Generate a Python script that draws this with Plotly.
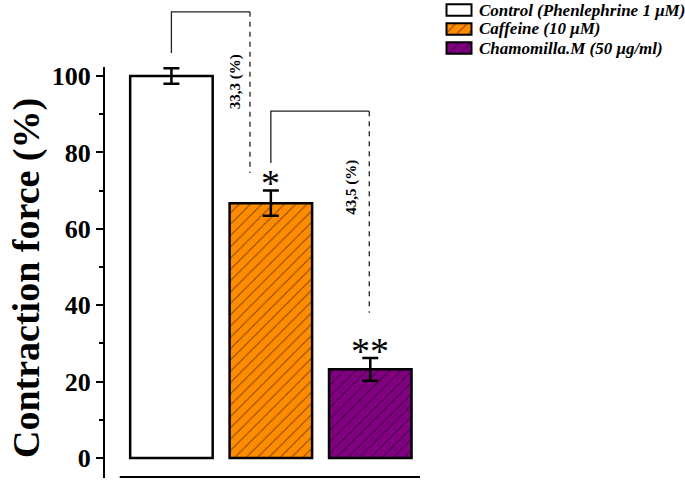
import plotly.graph_objects as go

# ---- data ----
categories = ["Control", "Caffeine", "Chamomilla"]
legend_names = ["Control (Phenlephrine 1 \u03bcM)", "Caffeine (10 \u03bcM)", "Chamomilla.M (50 \u03bcg/ml)"]
values = [100.0, 66.7, 23.2]
errors = [2.0, 3.3, 3.0]
colors = ["#FFFFFF", "#FF8C00", "#800080"]
patterns = ["", "/", "/"]
stars = ["", "*", "**"]
y_tickvals = [0, 20, 40, 60, 80, 100]
y_minor = [10, 30, 50, 70, 90]

FONT = "Times New Roman, Liberation Serif, serif"
W, H = 685, 481
# main axes: y axis stops just above the top error bar; everything above is drawn in a pixel overlay
XR = [-0.668, 2.5]
YR = [-5.3, 102.4]
PX_LEFT, PX_RIGHT = 105.0, 420.0
PX_Y0 = 458.0          # pixel of value 0
PX_PER_UNIT = 3.82


def px_x(p):
    return p / W


def px_y(p):
    return (H - p) / H


def y_to_px(v):
    return PX_Y0 - v * PX_PER_UNIT


def x_to_px(v):
    return PX_LEFT + (v - XR[0]) / (XR[1] - XR[0]) * (PX_RIGHT - PX_LEFT)


XDOM = [px_x(PX_LEFT), px_x(PX_RIGHT)]
YDOM = [px_y(y_to_px(YR[0])), px_y(y_to_px(YR[1]))]

fig = go.Figure()
xs = list(range(len(categories)))
for i in xs:
    fig.add_trace(go.Bar(
        x=[i], y=[values[i]], name=legend_names[i], width=0.83, showlegend=False,
        marker=dict(color=colors[i], line=dict(color="black", width=2.5),
                    pattern=dict(shape=patterns[i], fgcolor="black", size=8, solidity=0.12)),
        error_y=dict(type="data", array=[errors[i]], color="black", thickness=2.5, width=8),
        xaxis="x", yaxis="y",
    ))

# legend swatches drawn as small horizontal bars in a helper subplot
for i in xs:
    fig.add_trace(go.Bar(
        x=[1], y=[i], orientation="h", width=0.6, showlegend=False, hoverinfo="skip",
        marker=dict(color=colors[i], line=dict(color="black", width=2),
                    pattern=dict(shape=patterns[i], fgcolor="black", size=8, solidity=0.12)),
        xaxis="x2", yaxis="y2",
    ))
    fig.add_annotation(xref="paper", yref="paper", x=px_x(477), y=px_y(10 + 19 * i),
                       text=legend_names[i], showarrow=False, xanchor="left", yanchor="middle",
                       font=dict(family=FONT, size=17, color="black", style="italic", weight="bold"))

# significance stars (pixel overlay)
for i in xs:
    if stars[i]:
        fig.add_annotation(xref="x3", yref="y3", x=x_to_px(i), y=y_to_px(values[i] + errors[i] + 1.9),
                           text=stars[i], showarrow=False, yanchor="middle",
                           font=dict(family=FONT, size=38, color="black"))

# comparison brackets (pixel overlay)
brackets = [  # (from idx, to-x offset, start y, top y, dashed end y, label x, label y)
    (0, 0.79, 106.0, 116.8, 74.6, 0.64, 98.4),
    (1, 0.99, 77.2, 90.8, 38.0, 1.815, 71.0),
]
for i, dx, y0, ytop, yend, lx, ly in brackets:
    x0 = xs[i]
    x1 = xs[i] + dx
    fig.add_trace(go.Scatter(
        x=[x_to_px(x0), x_to_px(x0), x_to_px(x1)], y=[y_to_px(y0), y_to_px(ytop), y_to_px(ytop)],
        mode="lines", line=dict(color="#222", width=1.3), showlegend=False, hoverinfo="skip",
        xaxis="x3", yaxis="y3"))
    fig.add_trace(go.Scatter(
        x=[x_to_px(x1), x_to_px(x1)], y=[y_to_px(ytop), y_to_px(yend)],
        mode="lines", line=dict(color="#222", width=1.3, dash="5px,5px"), showlegend=False,
        hoverinfo="skip", xaxis="x3", yaxis="y3"))
    diff = values[i] - values[i + 1]
    label = f"{diff:.1f}".replace(".", ",") + " (%)"
    fig.add_annotation(xref="x3", yref="y3", x=x_to_px(lx), y=y_to_px(ly), text=label, textangle=-90,
                       showarrow=False, font=dict(family=FONT, size=15, color="black", weight="bold"))

# detached bottom line
fig.add_trace(go.Scatter(
    x=[x_to_px(-0.52), x_to_px(2.5)], y=[y_to_px(-5.0), y_to_px(-5.0)], mode="lines",
    line=dict(color="black", width=2), showlegend=False, hoverinfo="skip", xaxis="x3", yaxis="y3"))

# y axis title
fig.add_annotation(xref="paper", yref="paper", x=px_x(27), y=px_y(278), text="Contraction force (%)",
                   textangle=-90, showarrow=False, xanchor="center", yanchor="middle",
                   font=dict(family=FONT, size=38, color="black", weight="bold"))

fig.update_layout(
    width=W, height=H,
    margin=dict(l=0, r=0, t=0, b=0, autoexpand=False),
    paper_bgcolor="white", plot_bgcolor="rgba(0,0,0,0)",
    barmode="overlay",
    showlegend=False,
    xaxis=dict(domain=XDOM, range=XR, showticklabels=False, showgrid=False, zeroline=False,
               showline=False, ticks="", automargin=False),
    yaxis=dict(domain=YDOM, range=YR, tickvals=y_tickvals, ticks="outside", ticklen=7, tickwidth=2,
               tickcolor="black", showgrid=False, zeroline=False, automargin=False,
               showline=True, linecolor="black", linewidth=2.2,
               tickfont=dict(family=FONT, size=26, color="black", weight="bold"),
               minor=dict(tickvals=y_minor, ticks="outside", ticklen=4, tickwidth=2, tickcolor="black")),
    xaxis2=dict(domain=[px_x(445), px_x(473)], range=[-0.06, 1.06], visible=False, fixedrange=True,
                automargin=False),
    yaxis2=dict(domain=[px_y(57.5), px_y(0.5)], range=[2.5, -0.5], visible=False, fixedrange=True,
                automargin=False),
    xaxis3=dict(domain=[0, 1], range=[0, W], visible=False, fixedrange=True, automargin=False),
    yaxis3=dict(domain=[0, 1], range=[H, 0], visible=False, fixedrange=True, automargin=False),
)

fig.write_html("out.html")
